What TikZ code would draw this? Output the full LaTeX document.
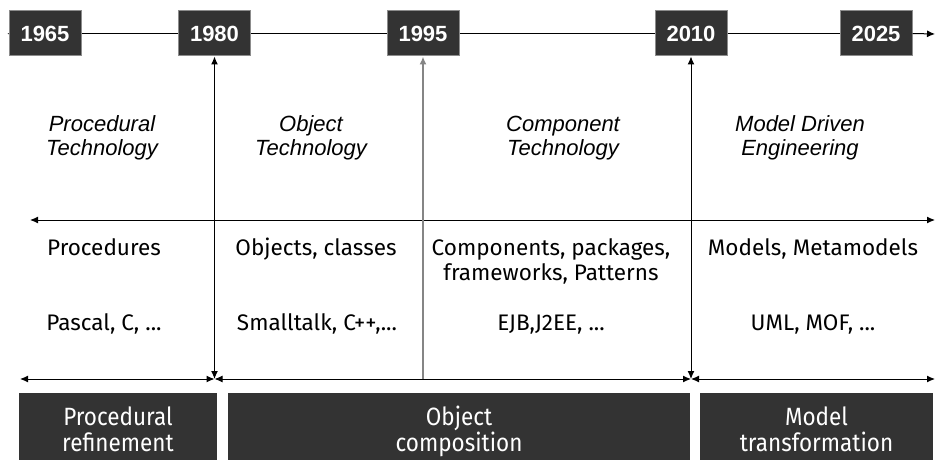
\documentclass[tikz,border=0pt]{standalone}
\usepackage{fontspec}
\setmainfont{Liberation Sans}
\newfontfamily\rowfont{Fira Sans}
\newfontfamily\barfont[FakeStretch=0.9]{Fira Sans}
\usetikzlibrary{arrows.meta}
\definecolor{box-gray}{HTML}{333333}
\definecolor{edge-gray}{HTML}{8C8C8C}
\definecolor{mid-gray}{HTML}{858585}
\tikzstyle{yearbox}=[draw=edge-gray,line width=1pt,fill=box-gray,text=white,font=\bfseries\fontsize{22}{22}\selectfont,minimum width=72pt,minimum height=45pt,inner sep=0pt]
\tikzstyle{erabox}=[fill=box-gray,inner sep=0pt,minimum height=67pt]
\tikzstyle{eratext}=[text=white,font=\barfont\fontsize{25}{26}\selectfont,align=center,anchor=base,inner sep=0pt]
\tikzstyle{techlabel}=[font=\itshape\fontsize{22}{24}\selectfont,align=center,anchor=base,inner sep=0pt]
\tikzstyle{rowlabel}=[font=\rowfont\fontsize{22.5}{25}\selectfont,align=center,anchor=base,inner sep=0pt]
\tikzstyle{onearrow}=[-{Latex[length=8pt,width=7pt]},line width=1pt]
\tikzstyle{twoarrow}=[{Latex[length=8pt,width=7pt]}-{Latex[length=8pt,width=7pt]},line width=1pt]

\begin{document}
\begin{tikzpicture}[x=1pt,y=-1pt]
	\useasboundingbox (0,0) rectangle (935,460);
	% year boxes on the time line
	\node[yearbox] (y1965) at (45,33.5) {1965};
	\node[yearbox] (y1980) at (214.5,33.5) {1980};
	\node[yearbox] (y1995) at (423,33.5) {1995};
	\node[yearbox] (y2010) at (691,33.5) {2010};
	\node[yearbox] (y2025) at (876,33.5) {2025};
	\coordinate (tl) at (8,34);
	\coordinate (tr) at (935,34);
	\draw[line width=1pt] (tl) -- (y1965.west);
	\draw[line width=1pt] (y1965.east) -- (y1980.west);
	\draw[line width=1pt] (y1980.east) -- (y1995.west);
	\draw[line width=1pt] (y1995.east) -- (y2010.west);
	\draw[line width=1pt] (y2010.east) -- (y2025.west);
	\draw[onearrow] (y2025.east) -- (tr);
	% middle and bottom axes
	\coordinate (ml) at (30,220);
	\coordinate (mr) at (935,220);
	\coordinate (bl) at (20,379);
	\coordinate (br) at (935,379);
	\coordinate (b1980) at (y1980.south |- bl);
	\coordinate (b1995) at (y1995.south |- bl);
	\coordinate (b2010) at (y2010.south |- bl);
	\draw[twoarrow] (ml) -- (mr);
	\draw[twoarrow] (bl) -- (b1980);
	\draw[twoarrow] (b1980) -- (b2010);
	\draw[twoarrow] (b2010) -- (br);
	% era borders
	\draw[twoarrow] (y1980.south) -- (b1980);
	\draw[twoarrow] (y2010.south) -- (b2010);
	\draw[onearrow,mid-gray,line width=1.6pt] (b1995) -- (y1995.south);
	% technologies (base = last line)
	\node[techlabel] (proctech) at (102,155) {Procedural\\Technology};
	\node[techlabel] (objtech) at (311,155) {Object\\Technology};
	\node[techlabel] (comptech) at (563,155) {Component\\Technology};
	\node[techlabel] (mdetech) at (800,155) {Model Driven\\Engineering};
	% concepts
	\node[rowlabel] (proccon) at (104,255) {Procedures};
	\node[rowlabel] (objcon) at (316,255) {Objects, classes};
	\node[rowlabel] (compcon) at (551,280) {Components, packages,\\frameworks, Patterns};
	\node[rowlabel] (mdecon) at (813,255) {Models, Metamodels};
	% languages
	\node[rowlabel] (proclang) at (104,330) {Pascal, C, ...};
	\node[rowlabel] (objlang) at (317,330) {Smalltalk, C++,...};
	\node[rowlabel] (complang) at (551,330) {EJB,J2EE, ...};
	\node[rowlabel] (mdelang) at (813,330) {UML, MOF, ...};
	% eras
	\node[erabox,minimum width=198pt] (procera) at (118,426.5) {};
	\node[erabox,minimum width=462pt] (objera) at (459,426.5) {};
	\node[erabox,minimum width=233pt] (mdeera) at (816.5,426.5) {};
	\node[eratext] (proceratext) at (procera |- 0,451) {Procedural\\refinement};
	\node[eratext] (objeratext) at (objera |- 0,451) {Object\\composition};
	\node[eratext] (mdeeratext) at (mdeera |- 0,451) {Model\\transformation};
\end{tikzpicture}
\end{document}
